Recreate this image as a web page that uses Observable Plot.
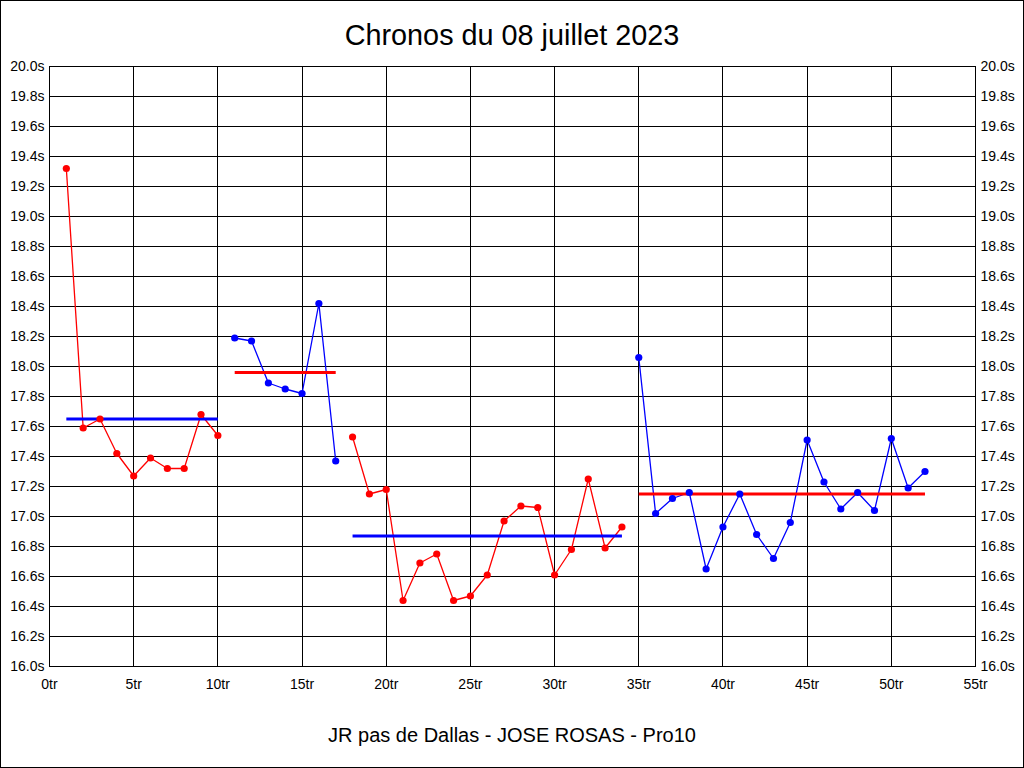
<!DOCTYPE html>
<html><head><meta charset="utf-8">
<script src="https://cdn.jsdelivr.net/npm/d3@7"></script>
<script src="https://cdn.jsdelivr.net/npm/@observablehq/plot@0.6"></script>
<style>
html,body{margin:0;padding:0;background:#fff;}
#wrap{width:1022px;height:766px;border:1px solid #000;background:#fff;font-family:"Liberation Sans",Arial,sans-serif;overflow:hidden;color:#000;}
#title{height:55px;box-sizing:border-box;padding-top:20px;font-size:28.8px;line-height:28.8px;text-align:center;white-space:nowrap;}
#caption{height:71px;box-sizing:border-box;padding-top:29px;font-size:20px;line-height:20px;text-align:center;white-space:nowrap;}
#chart svg{display:block;}
</style></head>
<body>
<div id="wrap">
  <div id="title">Chronos du 08 juillet 2023</div>
  <div id="chart"></div>
  <div id="caption">JR pas de Dallas - JOSE ROSAS - Pro10</div>
</div>
<script>
// Lap numbers and lap times (seconds)
const laps = [1,2,3,4,5,6,7,8,9,10,11,12,13,14,15,16,17,18,19,20,21,22,23,24,25,26,27,28,29,30,31,32,33,34,35,36,37,38,39,40,41,42,43,44,45,46,47,48,49,50,51,52];
const times = [
  19.32,17.59,17.65,17.42,17.27,17.39,17.32,17.32,17.68,17.54,
  18.19,18.17,17.89,17.85,17.82,18.42,17.37,
  17.53,17.15,17.18,16.44,16.69,16.75,16.44,16.47,16.61,16.97,17.07,17.06,16.61,16.78,17.25,16.79,16.93,
  18.06,17.02,17.12,17.16,16.65,16.93,17.15,16.88,16.72,16.96,17.51,17.23,17.05,17.16,17.04,17.52,17.19,17.30
];
// Stints (first lap, last lap, average time)
const stintStart = [1, 11, 18, 35];
const stintEnd = [10, 17, 34, 52];
const stintAvg = [17.65, 17.96, 16.87, 17.15];
// Tick values
const xTicks = [0,5,10,15,20,25,30,35,40,45,50,55];
const yTicks = [16.0,16.2,16.4,16.6,16.8,17.0,17.2,17.4,17.6,17.8,18.0,18.2,18.4,18.6,18.8,19.0,19.2,19.4,19.6,19.8,20.0];

const rows = laps.map((lap, i) => ({lap, time: times[i]}));
const RED = "#ff0000", BLUE = "#0000ff";

const marks = [
  Plot.gridX(xTicks, {stroke: "#000", strokeOpacity: 1, strokeWidth: 1, shapeRendering: "crispEdges"}),
  Plot.gridY(yTicks, {stroke: "#000", strokeOpacity: 1, strokeWidth: 1, shapeRendering: "crispEdges"}),
  Plot.frame({stroke: "#000", strokeWidth: 1, shapeRendering: "crispEdges"}),
  Plot.axisY(yTicks, {anchor: "left", tickSize: 0, tickPadding: 5, tickFormat: d => d.toFixed(1) + "s", label: null}),
  Plot.axisY(yTicks, {anchor: "right", tickSize: 0, tickPadding: 5, tickFormat: d => d.toFixed(1) + "s", label: null}),
  Plot.axisX(xTicks, {anchor: "bottom", tickSize: 0, tickPadding: 13, tickFormat: d => d + "tr", label: null})
];

stintStart.forEach((s, k) => {
  const e = stintEnd[k];
  const lineColor = k % 2 === 0 ? RED : BLUE;
  const avgColor = k % 2 === 0 ? BLUE : RED;
  const seg = rows.filter(d => d.lap >= s && d.lap <= e);
  marks.push(Plot.line(seg, {x: "lap", y: "time", stroke: lineColor, strokeWidth: 1.3}));
  marks.push(Plot.link([k], {x1: i => stintStart[i], x2: i => stintEnd[i], y1: i => stintAvg[i], y2: i => stintAvg[i], stroke: avgColor, strokeWidth: 3.2}));
  marks.push(Plot.dot(seg, {x: "lap", y: "time", r: 3.6, fill: lineColor, stroke: "none"}));
});

const chart = Plot.plot({
  width: 1022,
  height: 640,
  marginTop: 10,
  marginBottom: 30,
  marginLeft: 48,
  marginRight: 48,
  x: {domain: [0, 55]},
  y: {domain: [16, 20]},
  style: {fontSize: "14px", fontFamily: '"Liberation Sans", Arial, sans-serif', color: "#000", background: "#fff", overflow: "visible"},
  marks
});
document.getElementById("chart").appendChild(chart);
</script>
</body></html>
